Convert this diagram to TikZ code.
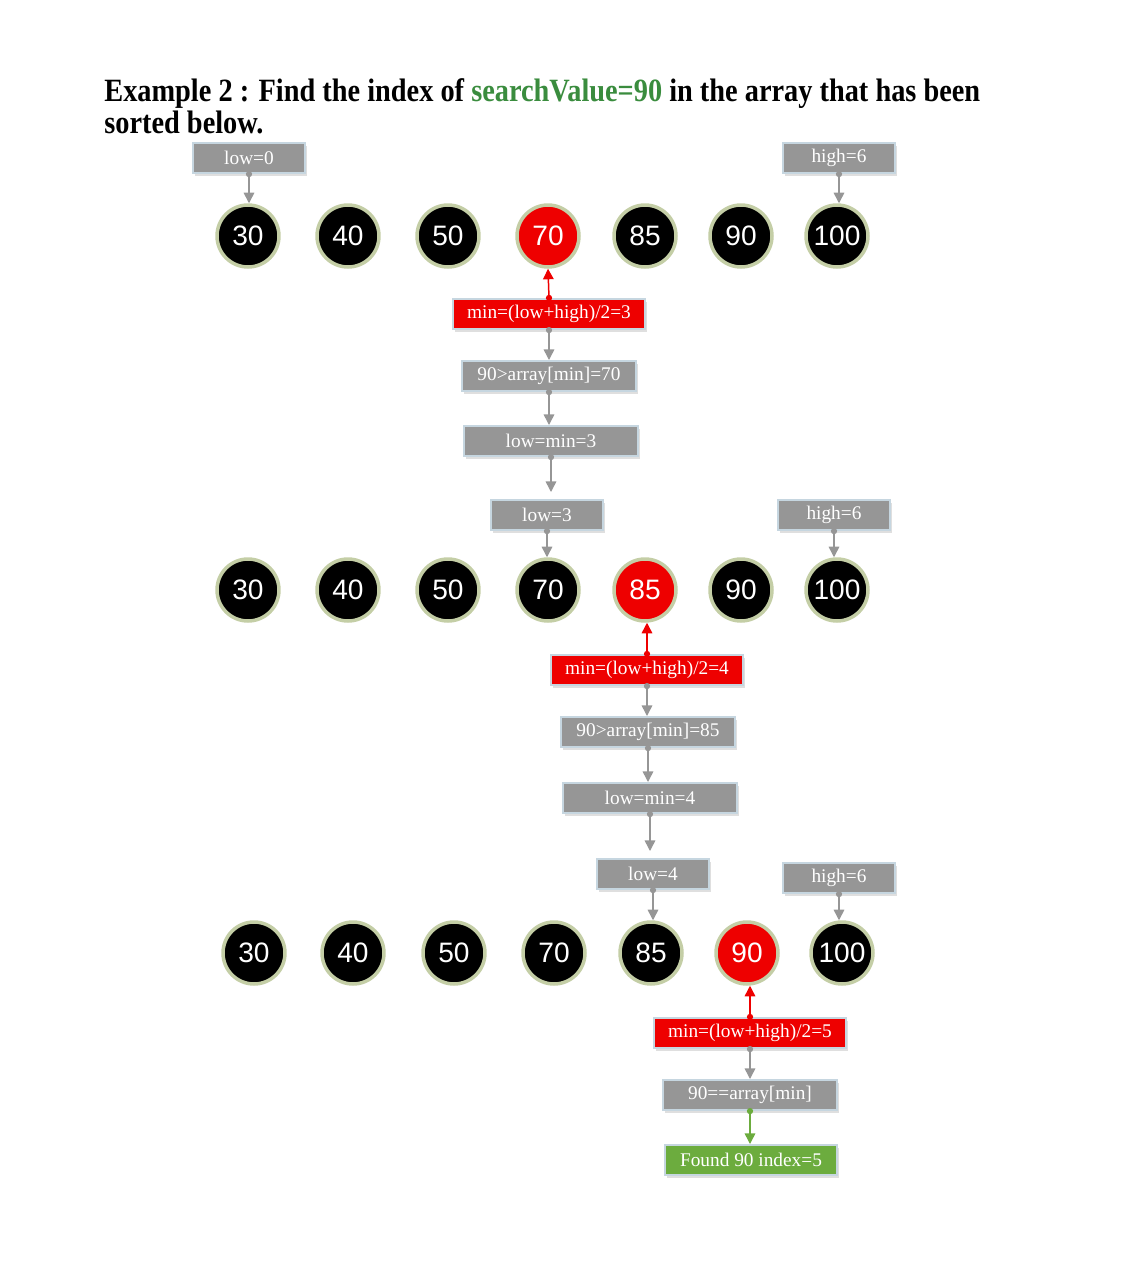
\documentclass[tikz,border=0pt]{standalone}
\usepackage{fontspec}
\setmainfont{Liberation Serif}
\setsansfont{Liberation Sans}
\usetikzlibrary{arrows.meta,shadows}

\definecolor{boxgray}{RGB}{150,150,150}
\definecolor{boxedge}{RGB}{198,214,224}
\definecolor{hitred}{RGB}{238,0,0}
\definecolor{foundgreen}{RGB}{108,172,62}
\definecolor{titlegreen}{RGB}{58,140,62}
\definecolor{ringgreen}{RGB}{196,206,166}
\definecolor{linkgray}{RGB}{150,150,150}

\tikzset{
  stepbox/.style={rectangle, fill=boxgray, draw=boxedge, line width=0.04cm,
    minimum height=0.6cm, inner sep=0pt, text=white,
    font=\fontsize{11}{11}\selectfont,
    drop shadow={opacity=0.25, shadow xshift=0.04cm, shadow yshift=-0.05cm}},
  minbox/.style={stepbox, fill=hitred},
  foundbox/.style={stepbox, fill=foundgreen},
  numball/.style={circle, fill=black, draw=ringgreen, line width=0.07cm,
    minimum size=1.24cm, inner sep=0pt, text=white,
    font=\sffamily\fontsize{16}{16}\selectfont},
  hitball/.style={numball, fill=hitred},
  link/.style={draw=linkgray, line width=0.85pt,
    {Circle[length=3.5pt]}-{Triangle[length=6pt,width=6pt]}, shorten <=-1.7pt},
  hitlink/.style={link, draw=hitred},
  foundlink/.style={link, draw=foundgreen},
}

\begin{document}
\begin{tikzpicture}[x=0.02cm, y=-0.02cm]
\useasboundingbox (0,0) rectangle (1132,1262);

% title
\node[anchor=base west, inner sep=0pt, font=\bfseries\fontsize{18.5}{18.5}\selectfont] (title1) at (104,101)
  {\scalebox{0.872}[1]{Example 2 : Find the index of \textcolor{titlegreen}{searchValue=90} in the array that has been}};
\node[anchor=base west, inner sep=0pt, font=\bfseries\fontsize{18.5}{18.5}\selectfont] (title2) at (104,133)
  {\scalebox{0.872}[1]{sorted below.}};

% first pass
\foreach \v/\x/\s [count=\i] in {30/248/numball, 40/348/numball, 50/448/numball, 70/548/hitball,
                                  85/645/numball, 90/741/numball, 100/837/numball}
  \node[\s] (a\i) at (\x,236) {\v};
\node[stepbox, minimum width=2.26cm] (low0) at (249,158) {low=0};
\node[stepbox, minimum width=2.26cm] (high0) at (839,158) {high=6};
\node[minbox, minimum width=3.86cm] (mid0) at (549,314) {min=(low+high)/2=3};
\node[stepbox, minimum width=3.5cm] (cmp0) at (549,376) {90>array[min]=70};
\node[stepbox, minimum width=3.5cm] (set0) at (551,441) {low=min=3};
\draw[link] (low0.south) -- (low0.south |- a1.north);
\draw[link] (high0.south) -- (high0.south |- a7.north);
\draw[hitlink] (mid0.north) -- (a4.south);
\draw[link] (mid0.south) -- (cmp0.north);
\draw[link] (cmp0.south) -- (cmp0.south |- set0.north);

% second pass
\foreach \v/\x/\s [count=\i] in {30/248/numball, 40/348/numball, 50/448/numball, 70/548/numball,
                                  85/645/hitball, 90/741/numball, 100/837/numball}
  \node[\s] (b\i) at (\x,590) {\v};
\node[stepbox, minimum width=2.26cm] (low1) at (547,515) {low=3};
\node[stepbox, minimum width=2.26cm] (high1) at (834,515) {high=6};
\node[minbox, minimum width=3.86cm] (mid1) at (647,670) {min=(low+high)/2=4};
\node[stepbox, minimum width=3.5cm] (cmp1) at (648,732) {90>array[min]=85};
\node[stepbox, minimum width=3.5cm] (set1) at (650,798) {low=min=4};
\draw[link] (set0.south) -- ([yshift=0.14cm]set0.south |- low1.north);
\draw[link] (low1.south) -- (low1.south |- b4.north);
\draw[link] (high1.south) -- (high1.south |- b7.north);
\draw[hitlink] (mid1.north) -- (mid1.north |- b5.south);
\draw[link] (mid1.south) -- (mid1.south |- cmp1.north);
\draw[link] (cmp1.south) -- (cmp1.south |- set1.north);

% third pass
\foreach \v/\x/\s [count=\i] in {30/254/numball, 40/353/numball, 50/454/numball, 70/554/numball,
                                  85/651/numball, 90/747/hitball, 100/842/numball}
  \node[\s] (c\i) at (\x,953) {\v};
\node[stepbox, minimum width=2.26cm] (low2) at (653,874) {low=4};
\node[stepbox, minimum width=2.26cm] (high2) at (839,878) {high=6};
\node[minbox, minimum width=3.86cm] (mid2) at (750,1033) {min=(low+high)/2=5};
\node[stepbox, minimum width=3.5cm] (cmp2) at (750,1095) {90==array[min]};
\node[foundbox, minimum width=3.46cm] (found) at (751,1160) {Found 90 index=5};
\draw[link] (set1.south) -- ([yshift=0.14cm]set1.south |- low2.north);
\draw[link] (low2.south) -- (low2.south |- c5.north);
\draw[link] (high2.south) -- (high2.south |- c7.north);
\draw[hitlink] (mid2.north) -- (mid2.north |- c6.south);
\draw[link] (mid2.south) -- (cmp2.north);
\draw[foundlink] (cmp2.south) -- (cmp2.south |- found.north);

\end{tikzpicture}
\end{document}
